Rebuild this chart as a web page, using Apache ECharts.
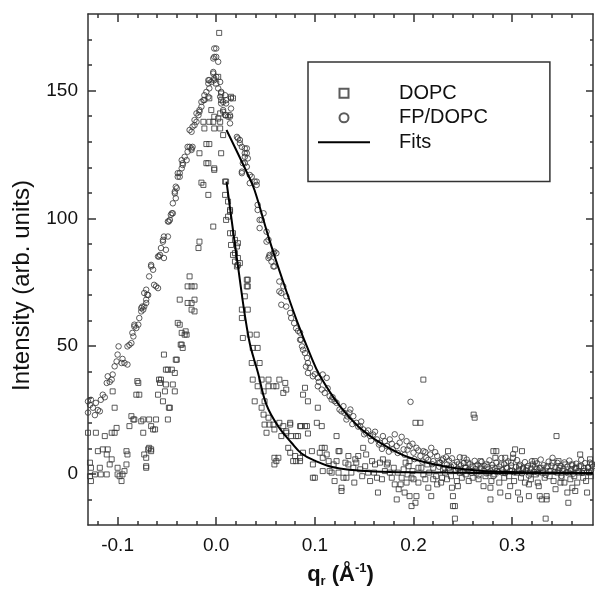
<!DOCTYPE html>
<html>
<head>
<meta charset="utf-8">
<script src="https://cdn.jsdelivr.net/npm/echarts@6/dist/echarts.min.js"></script>
<style>html,body{margin:0;padding:0;background:#fff;}#c{width:595px;height:594px;}</style>
</head>
<body>
<div id="c"></div>
<script>
// ---- axis ticks / labels ----
const xMajorTicks = [-0.1, 0, 0.1, 0.2, 0.3];
const xMinorTicks = [-0.12,-0.08,-0.06,-0.04,-0.02,0.02,0.04,0.06,0.08,0.12,0.14,0.16,0.18,0.22,0.24,0.26,0.28,0.32,0.34,0.36];
const yMajorTicks = [0, 50, 100, 150];
const yMinorTicks = [-10,10,20,30,40,60,70,80,90,110,120,130,140,160,170];

// ---- DOPC (squares): [q_r, intensity] ----
const dopcPoints = [
[-0.130,16.1],[-0.128,4.4],[-0.127,2.4],[-0.128,-0.9],[-0.127,-2.8],[-0.123,-0.2],[-0.122,16.1],[-0.120,8.9],[-0.118,2.4],[-0.117,-0.2],
[-0.115,9.6],[-0.113,14.8],[-0.111,-0.2],[-0.111,7.6],[-0.110,9.6],[-0.108,3.7],[-0.106,5.7],[-0.106,16.1],[-0.105,32.3],[-0.103,25.9],
[-0.103,16.1],[-0.101,18],[-0.100,2.4],[-0.100,-0.2],[-0.098,-0.9],[-0.096,-2.8],[-0.095,-0.2],[-0.093,1.1],[-0.091,3.7],[-0.091,8.9],
[-0.090,7.6],[-0.088,18.7],[-0.086,22.6],[-0.084,21.3],[-0.083,21.3],[-0.081,31],[-0.080,36.3],[-0.079,35.6],[-0.078,31],[-0.076,20.6],
[-0.074,16.1],[-0.074,21.3],[-0.073,7.6],[-0.071,6.3],[-0.071,2.4],[-0.071,3.0],[-0.069,9.6],[-0.068,10.2],[-0.068,21.3],[-0.066,9.6],[-0.066,8.9],
[-0.066,18.7],[-0.064,17.4],[-0.062,17.4],[-0.061,21.3],[-0.059,31],[-0.058,36.9],[-0.057,35.6],[-0.056,36.9],[-0.054,28.4],[-0.053,46.7],[-0.052,32.3],
[-0.051,35],[-0.051,40.8],[-0.049,21.3],[-0.048,25.9],[-0.047,25.9],[-0.049,40.8],[-0.045,40.8],[-0.044,35],[-0.042,32.3],[-0.042,39.5],
[-0.041,44.7],[-0.040,44.7],[-0.039,59.1],[-0.037,58.4],[-0.036,50.6],[-0.035,55.2],[-0.035,50.6],[-0.034,49.3],[-0.032,54.5],[-0.031,55.8],[-0.030,54.5],
[-0.037,68.2],[-0.029,66.9],[-0.025,66.9],[-0.025,64.3],[-0.022,68.2],[-0.022,63.6],[-0.029,73.4],[-0.025,73.4],[-0.022,73.4],[-0.027,77.3],
[-0.018,88.4],[-0.017,90.9],[-0.003,96.8],[-0.008,109.2],[-0.015,114],[-0.013,113.1],[-0.010,121.6],[-0.002,119.6],[-0.017,125.5],[-0.010,129.1],
[-0.007,129.1],[0.005,125.5],[0.007,132.6],[-0.013,137.8],[-0.007,137.8],[-0.003,137.8],[0.004,137.8],[-0.012,135.2],[-0.002,135.2],[0.004,135.2],
[-0.005,142.4],[-0.002,139.8],[0.002,139.1],[0.005,148.9],[-0.007,147],[0.005,146.3],[0.002,155.4],[0.000,152.8],[0.004,141.1],[0.010,140.4],
[0.015,147.6],[0.017,147],[0.003,172.6],[-0.008,121.6],[-0.002,119],
[0.009,114.4],[0.010,114.4],[0.012,106.6],[0.009,109.2],[0.014,103.3],[0.010,99.4],[0.012,100.7],[0.014,102.7],[0.014,94.2],[0.017,94.2],
[0.019,91.6],[0.022,90.3],[0.015,89.6],[0.021,89],[0.019,86.4],[0.017,85.7],[0.022,84.5],[0.019,83.1],[0.024,82.5],[0.022,81.8],
[0.021,81.2],[0.031,76],[0.032,76],[0.031,73.4],[0.032,73.4],[0.029,69.5],[0.026,64.3],[0.032,64.3],[0.026,61],[0.027,53.2],
[0.034,54.5],[0.041,54.5],[0.037,49.3],[0.042,49.3],[0.036,43.4],[0.044,43.4],[0.037,36.9],[0.046,36.9],[0.042,34.3],[0.053,36.9],
[0.053,34.3],[0.058,34.3],[0.061,34.3],[0.064,36.9],[0.070,35.6],[0.071,33],[0.068,31.7],[0.048,32.3],[0.039,28.4],[0.049,28.4],
[0.046,25.9],[0.048,23.2],[0.053,22],[0.049,19.3],[0.054,19.3],[0.059,17.4],[0.051,16.1],[0.058,19.3],[0.064,20],[0.068,18.7],
[0.075,19.3],[0.075,20],[0.071,16.7],[0.066,14.8],[0.071,16.1],[0.076,14.8],[0.081,14.8],[0.083,14.8],[0.086,18.7],[0.090,18.7],
[0.073,10.2],[0.075,8.3],[0.080,7],[0.085,6.3],[0.088,8.3],[0.078,5],[0.081,5],[0.085,5],[0.059,6.3],[0.063,6.3],[0.061,5],[0.059,3.7],
[0.090,33.7],[0.088,31],[0.093,28.4],[0.103,25.9],[0.102,20],[0.107,18.7],[0.085,18.7],[0.092,18.7],[0.093,15.8],[0.122,14.8],
[0.124,8.9],[0.097,8.9],[0.107,10.2],[0.110,10.2],[0.105,8.3],[0.112,7.6],[0.108,6.3],[0.125,8.9],[0.098,3.7],[0.114,5],
[0.119,3.7],[0.122,5],[0.115,1.1],[0.108,1.1],[0.098,-1.5],[0.100,-1.5],[0.120,-2.8],[0.117,0.5],[0.124,0.5],[0.127,-5.4],
[0.127,-6.7],[0.129,-1.5],[0.132,-1.5],[0.134,7],[0.141,5.7],[0.144,7],[0.134,3.7],[0.139,2.4],[0.142,4.4],[0.149,10.2],
[0.152,7.6],[0.154,0.5],[0.156,-2.8],[0.158,5],[0.161,3.7],[0.163,-1.5],[0.164,-7.3],[0.166,4.4],[0.169,5.7],[0.173,3.7],
[0.174,4.4],[0.176,0.5],[0.178,-1.5],[0.181,-4.1],[0.183,-10],[0.185,-6],[0.188,-1.5],[0.191,-7.3],[0.193,-3.4],[0.196,-8.7],
[0.198,-12.6],[0.202,-11.3],[0.203,-8.7],[0.198,-1.5],[0.202,20],[0.207,20],[0.210,36.9],[0.200,-2.1],[0.205,-3.4],[0.212,-2.1],
[0.215,-5.4],[0.218,-8.7],[0.220,-2.1],[0.224,-4.1],[0.229,-1.5],[0.230,1.8],[0.205,2.4],[0.208,2.4],[0.220,2.4],[0.196,5],[0.195,3],
[0.131,4.4],[0.137,0.5],[0.140,-3.4],[0.146,1.8],[0.148,-0.9],[0.151,3.0],[0.160,0.5],[0.168,-2.1],[0.171,1.1],[0.180,2.4],
[0.184,0.5],[0.187,-4.1],[0.190,1.8],[0.192,4.4],[0.194,-0.2],[0.199,1.1],[0.210,-0.2],[0.214,3.7],[0.216,0.5],[0.223,-0.9],
[0.226,4.4],[0.228,-3.4],
[0.235,8.9],[0.239,-5.4],[0.245,-4.8],[0.240,-8.7],[0.242,-12.6],[0.240,-12.6],[0.242,-17.5],[0.251,6.3],[0.261,23.2],[0.262,22],
[0.271,-4.8],[0.278,-5.4],[0.278,-10],[0.281,8.9],[0.283,6.3],[0.284,8.9],[0.288,-7.3],[0.293,6.3],[0.296,-8.7],[0.298,-4.8],
[0.301,6.3],[0.303,9.6],[0.306,-7.3],[0.308,-10],[0.310,8.9],[0.317,-8.7],[0.317,-4.1],[0.323,5],[0.327,-4.8],[0.328,-8.7],
[0.330,-10],[0.334,-17.5],[0.335,-10],[0.335,-8.7],[0.344,-6],[0.345,14.8],[0.347,5],[0.349,-3.4],[0.356,-7.3],[0.357,-11.3],
[0.361,3.7],[0.361,-5.4],[0.364,-6.7],[0.369,7.6],[0.376,-7.3],[0.379,5.7],
[0.232,0.5],[0.234,-2.1],[0.236,2.4],[0.238,-0.9],[0.243,1.1],[0.244,-2.8],[0.246,3.7],[0.247,0.5],[0.249,-1.5],[0.252,2.4],
[0.253,-0.2],[0.255,4.4],[0.256,-2.8],[0.258,1.1],[0.260,-1.5],[0.263,3.0],[0.264,0.5],[0.266,-2.1],[0.268,5.0],[0.269,1.8],
[0.273,-0.9],[0.274,3.7],[0.276,0.5],[0.279,-2.8],[0.280,2.4],[0.282,-0.2],[0.285,1.1],[0.287,-3.4],[0.289,3.7],[0.291,0.5],
[0.292,-1.5],[0.294,2.4],[0.297,-0.9],[0.299,4.4],[0.300,1.1],[0.302,-2.8],[0.305,0.5],[0.307,3.0],[0.309,-1.5],[0.311,1.8],
[0.313,-3.4],[0.315,2.4],[0.318,0.5],[0.319,-2.1],[0.321,3.7],[0.324,-0.2],[0.325,1.8],[0.326,-3.4],[0.329,2.4],[0.331,0.5],
[0.333,-1.5],[0.336,3.0],[0.338,-0.9],[0.339,1.1],[0.341,4.4],[0.342,-2.8],[0.346,0.5],[0.348,2.4],[0.350,-1.5],[0.351,1.1],
[0.353,-3.4],[0.354,3.7],[0.357,0.5],[0.359,-2.1],[0.360,1.8],[0.363,-0.9],[0.365,2.4],[0.366,-3.4],[0.368,0.5],[0.370,3.0],
[0.372,-1.5],[0.373,1.1],[0.375,-2.8],[0.377,2.4],[0.378,0.5],[0.380,-0.9],[0.381,3.7]
];

// ---- FP/DOPC (circles): [q_r, intensity] ----
const fpPoints = [
[-0.130,28.4],[-0.130,24],[-0.128,27],[-0.127,29],[-0.125,25.9],[-0.123,23],[-0.122,27.8],[-0.120,25],[-0.118,24.5],[-0.117,29],
[-0.115,31],[-0.113,30],[-0.111,35.6],[-0.110,38.2],[-0.108,36],[-0.106,36.9],[-0.105,38.9],[-0.103,42.1],[-0.101,44],[-0.100,46.7],
[-0.099,49.9],[-0.096,43.4],[-0.095,45],[-0.093,43.4],[-0.090,42.8],[-0.090,49.9],[-0.088,50.5],[-0.086,51.2],[-0.084,53.8],[-0.085,55.2],
[-0.083,57.7],[-0.083,58.4],[-0.081,57.1],[-0.079,58.4],[-0.078,61],[-0.076,64.9],[-0.076,63.6],[-0.075,65.5],[-0.074,64.3],[-0.073,65.5],
[-0.073,70.8],[-0.071,66.9],[-0.071,68.2],[-0.070,70.1],[-0.069,70],[-0.071,72.1],[-0.068,77.3],[-0.066,81.8],[-0.066,81.2],[-0.064,79.9],
[-0.063,74],[-0.061,73.4],[-0.059,72.7],[-0.059,85.1],[-0.058,85.1],[-0.057,85.7],[-0.056,88.4],[-0.054,90.9],[-0.054,91.6],[-0.053,84.5],
[-0.053,92.9],[-0.051,87.7],[-0.049,92.9],[-0.049,98.8],[-0.048,98.8],[-0.047,99.4],[-0.046,101.4],[-0.045,102],[-0.044,102],[-0.044,105.9],
[-0.042,110.5],[-0.042,109.8],[-0.041,107.9],[-0.040,111.8],[-0.041,112.4],[-0.039,116.3],[-0.039,117.7],[-0.037,117.7],[-0.037,116.3],[-0.035,119.6],
[-0.034,121.6],[-0.034,120.9],[-0.035,122.8],[-0.032,124.1],[-0.030,122.8],[-0.029,126.1],[-0.029,128],[-0.027,128],[-0.025,126.8],[-0.024,128],[-0.025,127.4],
[-0.025,133.9],[-0.024,135.9],[-0.022,136.5],[-0.027,134.6],[-0.020,137.8],[-0.022,138.5],[-0.018,140.4],[-0.020,141.1],[-0.017,141.7],[-0.017,142.4],[-0.015,143.7],
[-0.015,145.6],[-0.013,146.3],[-0.012,148.2],[-0.012,146.3],[-0.010,149.5],[-0.008,147.6],[-0.007,150.9],[-0.008,152.8],[-0.008,154.1],[-0.007,154.1],
[-0.005,153.4],[-0.003,157.3],[-0.003,156.7],[-0.002,154.1],[-0.002,154.8],[0.000,155.4],[0.002,150.9],[-0.003,162.6],[-0.002,163.2],[0.000,166.5],
[-0.002,166.5],[0.000,163.2],[0.002,161.3],[0.004,147.6],[0.004,153.4],[0.005,145],[0.005,149.5],[0.007,142.4],[0.007,145.6],[0.009,140.4],
[0.009,148.2],[0.010,146.3],[0.010,145],[0.012,139.8],[0.014,140.4],[0.014,139.8],[0.014,137.2],[0.015,143],[0.015,147],[0.007,141.7],
[0.021,131.9],[0.022,131.3],[0.024,129.4],[0.024,130.7],[0.026,128],[0.029,127.4],[0.031,127.4],[0.031,125.5],[0.029,124.1],[0.029,125.5],[0.032,123.5],
[0.027,121.6],[0.029,121.6],[0.031,120.2],[0.026,117.7],[0.026,118.3],[0.034,117],[0.036,116.3],[0.034,113.8],[0.039,114.4],[0.041,114.4],[0.041,113.1],
[0.042,105.3],[0.042,103.3],[0.048,102],[0.044,99.4],[0.046,99.4],[0.044,96.2],[0.051,94.8],[0.053,91.6],[0.051,90.9],[0.054,85.1],
[0.054,85.7],[0.053,84.5],[0.058,86.4],[0.059,87],[0.061,86.4],[0.056,83.1],[0.058,81.2],[0.059,81.2],[0.064,75.3],[0.068,73.4],
[0.066,70.8],[0.064,71.4],[0.066,66.2],[0.071,69.5],[0.071,65.5],[0.075,63],[0.076,61],
[0.079,59],[0.081,57],[0.083,56],[0.085,55.3],[0.086,52.5],[0.085,52.5],[0.087,49.9],[0.088,48.6],[0.090,47.3],[0.092,45.4],
[0.093,43.4],[0.091,42],[0.093,39.5],[0.098,38.2],[0.103,37.6],[0.108,38.9],[0.112,37.6],[0.103,34.3],[0.107,33],[0.110,31.7],
[0.115,30.4],[0.117,29.1],[0.122,27.8],[0.125,25.2],[0.129,26.5],[0.130,23.9],[0.136,25.2],[0.132,21.3],[0.139,22.6],[0.142,20],
[0.146,18.7],[0.149,17.4],[0.152,16.1],[0.156,14.8],[0.159,15.4],[0.163,13.5],[0.166,12.2],[0.169,14.8],[0.173,10.9],[0.176,13.5],
[0.179,9.6],[0.183,10.9],[0.186,12.2],[0.190,9.6],[0.193,12.8],[0.196,10.9],[0.197,28.2],[0.200,8.3],[0.203,10.2],[0.207,7],
[0.210,8.9],[0.213,6.3],[0.217,7.6],[0.218,10.2],[0.220,5],[0.224,7],[0.227,4.4],[0.230,6],[0.234,3.7],
[0.095,41.5],[0.100,39],[0.104,36],[0.113,33.5],[0.118,30],[0.120,28.5],[0.127,24.5],[0.133,22.5],[0.135,24],[0.138,19.5],
[0.144,18.5],[0.147,20.5],[0.150,15.5],[0.154,17],[0.157,13],[0.161,16.5],[0.165,11.5],[0.168,9.8],[0.171,12.8],[0.175,8.7],
[0.178,11.8],[0.181,15.5],[0.184,8.2],[0.188,14.5],[0.191,7.5],[0.194,9.5],[0.199,11.8],[0.201,5.8],[0.205,9.2],[0.209,4.8],
[0.212,8.5],[0.215,5.5],[0.219,3.8],[0.222,8.5],[0.226,2.8],[0.229,5.3],[0.232,2.2],[0.233,6.5],
[0.236,5.2],[0.238,2.8],[0.239,6.1],[0.241,3.4],[0.242,1.2],[0.244,4.6],[0.245,2.1],[0.247,6.5],[0.248,3.3],[0.250,0.8],
[0.251,4.2],[0.253,2.5],[0.254,5.6],[0.256,1.6],[0.257,3.8],[0.259,0.4],[0.260,2.9],[0.262,5.1],[0.263,1.9],[0.265,3.6],
[0.266,-0.6],[0.268,2.4],[0.269,4.7],[0.271,1.3],[0.272,3.1],[0.274,0.2],[0.275,2.7],[0.277,5.3],[0.278,1.1],[0.280,3.5],
[0.281,-0.9],[0.283,2.2],[0.284,4.4],[0.286,0.7],[0.287,2.9],[0.289,6.2],[0.290,1.5],[0.292,3.8],[0.293,0.3],[0.295,2.4],
[0.296,4.9],[0.298,1.2],[0.299,3.3],[0.301,7.8],[0.302,0.6],[0.304,2.8],[0.305,5.4],[0.307,1.7],[0.308,3.6],[0.310,0.2],
[0.311,2.3],[0.313,4.6],[0.314,1.4],[0.316,3.1],[0.317,-0.7],[0.319,2.1],[0.320,5.0],[0.322,0.9],[0.323,2.7],[0.325,4.1],
[0.326,0.5],[0.328,2.2],[0.329,5.6],[0.331,1.3],[0.332,3.4],[0.334,-0.4],[0.335,2.5],[0.337,4.8],[0.338,1.0],[0.340,3.2],
[0.341,6.3],[0.343,0.8],[0.344,2.6],[0.346,4.3],[0.347,1.5],[0.349,3.1],[0.350,-0.8],[0.352,2.0],[0.353,4.5],[0.355,0.6],
[0.356,2.8],[0.358,5.2],[0.359,1.1],[0.361,3.3],[0.362,0.1],[0.364,2.4],[0.365,4.0],[0.367,1.2],[0.368,3.0],[0.370,5.5],
[0.371,0.4],[0.373,2.3],[0.374,4.2],[0.376,0.9],[0.377,2.6],[0.379,4.4],[0.380,1.3],[0.382,2.9]
];

// ---- fitted curves ----
const dopcFit = [[0.0104,114.4],[0.0218,82],[0.033,53],[0.0424,39.5],[0.051,27],[0.0627,18.7],[0.0763,12.2],[0.0865,8],[0.1,5.2],[0.1186,2.6],[0.1525,1.1],[0.2,0.6],[0.232,0.5],[0.3,0.3],[0.382,0.2]];
const fpFit = [[0.0104,134.6],[0.0323,117],[0.0389,111],[0.0536,92],[0.065,78.5],[0.0812,60.5],[0.095,47],[0.105,38.5],[0.1254,26.5],[0.1457,18],[0.1693,11.5],[0.1964,6.3],[0.2303,3],[0.2675,1.2],[0.3,0.7],[0.382,0.4]];

const FONT = 'Liberation Sans, Arial, Helvetica, sans-serif';
const AX = '#333';
const X_MIN = -0.13, X_MAX = 0.382, Y_MIN = -20, Y_MAX = 180;

function xAx(pos, ticks, len, opts) {
  return Object.assign({
    type: 'value', position: pos, min: X_MIN, max: X_MAX, splitLine: {show: false},
    axisLine: {show: true, onZero: false, lineStyle: {color: AX, width: 1.5}},
    axisTick: {show: true, inside: true, length: len, customValues: ticks, lineStyle: {color: AX, width: 1.5}},
    axisLabel: {show: false}
  }, opts || {});
}
function yAx(pos, ticks, len, opts) {
  return Object.assign({
    type: 'value', position: pos, min: Y_MIN, max: Y_MAX, splitLine: {show: false},
    axisLine: {show: true, onZero: false, lineStyle: {color: AX, width: 1.5}},
    axisTick: {show: true, inside: true, length: len, customValues: ticks, lineStyle: {color: AX, width: 1.5}},
    axisLabel: {show: false}
  }, opts || {});
}

const chart = echarts.init(document.getElementById('c'), null, {renderer: 'canvas'});
const symStyle = {color: 'rgba(0,0,0,0)', borderColor: '#333', borderWidth: 1};
chart.setOption({
  animation: false,
  backgroundColor: '#fff',
  textStyle: {fontFamily: FONT},
  grid: {left: 88, right: 2, top: 14, bottom: 69, containLabel: false},
  legend: {
    data: [
      {name: 'DOPC', icon: 'path://M0,0H10V10H0Z'},
      {name: 'FP/DOPC', icon: 'circle'},
      {name: 'Fits', itemStyle: {color: 'rgba(0,0,0,0)', borderColor: 'rgba(0,0,0,0)', borderWidth: 0}}
    ],
    orient: 'vertical', left: 308, top: 62,
    padding: [19, 62, 27, 9],
    itemWidth: 52, itemHeight: 9, itemGap: 0,
    symbolKeepAspect: true,
    borderColor: '#333', borderWidth: 1.5,
    textStyle: {fontSize: 20, color: '#111', fontFamily: FONT, lineHeight: 24.5, padding: [0, 0, 0, 24]}
  },
  xAxis: [
    xAx('bottom', xMajorTicks, 8, {
      axisLabel: {show: true, customValues: xMajorTicks, formatter: v => v.toFixed(1), fontSize: 19, color: '#111', margin: 11, fontFamily: FONT},
      name: '{b|q}{sub|r}{b| (Å}{sup|-1}{b|)}', nameLocation: 'middle', nameGap: 37,
      nameTextStyle: {rich: {
        b: {fontSize: 22, fontWeight: 'bold', color: '#111', lineHeight: 26, fontFamily: FONT},
        sub: {fontSize: 13, fontWeight: 'bold', color: '#111', lineHeight: 14, verticalAlign: 'bottom', fontFamily: FONT},
        sup: {fontSize: 13, fontWeight: 'bold', color: '#111', lineHeight: 14, verticalAlign: 'top', fontFamily: FONT}
      }}
    }),
    xAx('bottom', xMinorTicks, 4, {axisLine: {show: false, onZero: false}}),
    xAx('top', xMajorTicks, 8),
    xAx('top', xMinorTicks, 4, {axisLine: {show: false, onZero: false}})
  ],
  yAxis: [
    yAx('left', yMajorTicks, 8, {
      axisLabel: {show: true, customValues: yMajorTicks, fontSize: 19, color: '#111', margin: 10, fontFamily: FONT},
      name: 'Intensity (arb. units)', nameLocation: 'middle', nameGap: 54,
      nameTextStyle: {fontSize: 24, color: '#111', fontFamily: FONT, padding: [0, 32, 0, 0]}
    }),
    yAx('left', yMinorTicks, 4, {axisLine: {show: false, onZero: false}}),
    yAx('right', yMajorTicks, 7),
    yAx('right', yMinorTicks, 3, {axisLine: {show: false, onZero: false}})
  ],
  series: [
    {name: 'DOPC', type: 'scatter', data: dopcPoints, symbol: 'rect', symbolSize: 5, itemStyle: symStyle, z: 3},
    {name: 'FP/DOPC', type: 'scatter', data: fpPoints, symbol: 'circle', symbolSize: 5.5, itemStyle: symStyle, z: 3},
    {name: 'Fits', type: 'line', data: dopcFit, smooth: 0.4, symbol: 'none', showSymbol: false, lineStyle: {color: '#000', width: 2}, itemStyle: {color: '#000'}, z: 4},
    {name: 'Fits', type: 'line', data: fpFit, smooth: 0.4, symbol: 'none', showSymbol: false, lineStyle: {color: '#000', width: 2}, itemStyle: {color: '#000'}, z: 4}
  ]
});
</script>
</body>
</html>
